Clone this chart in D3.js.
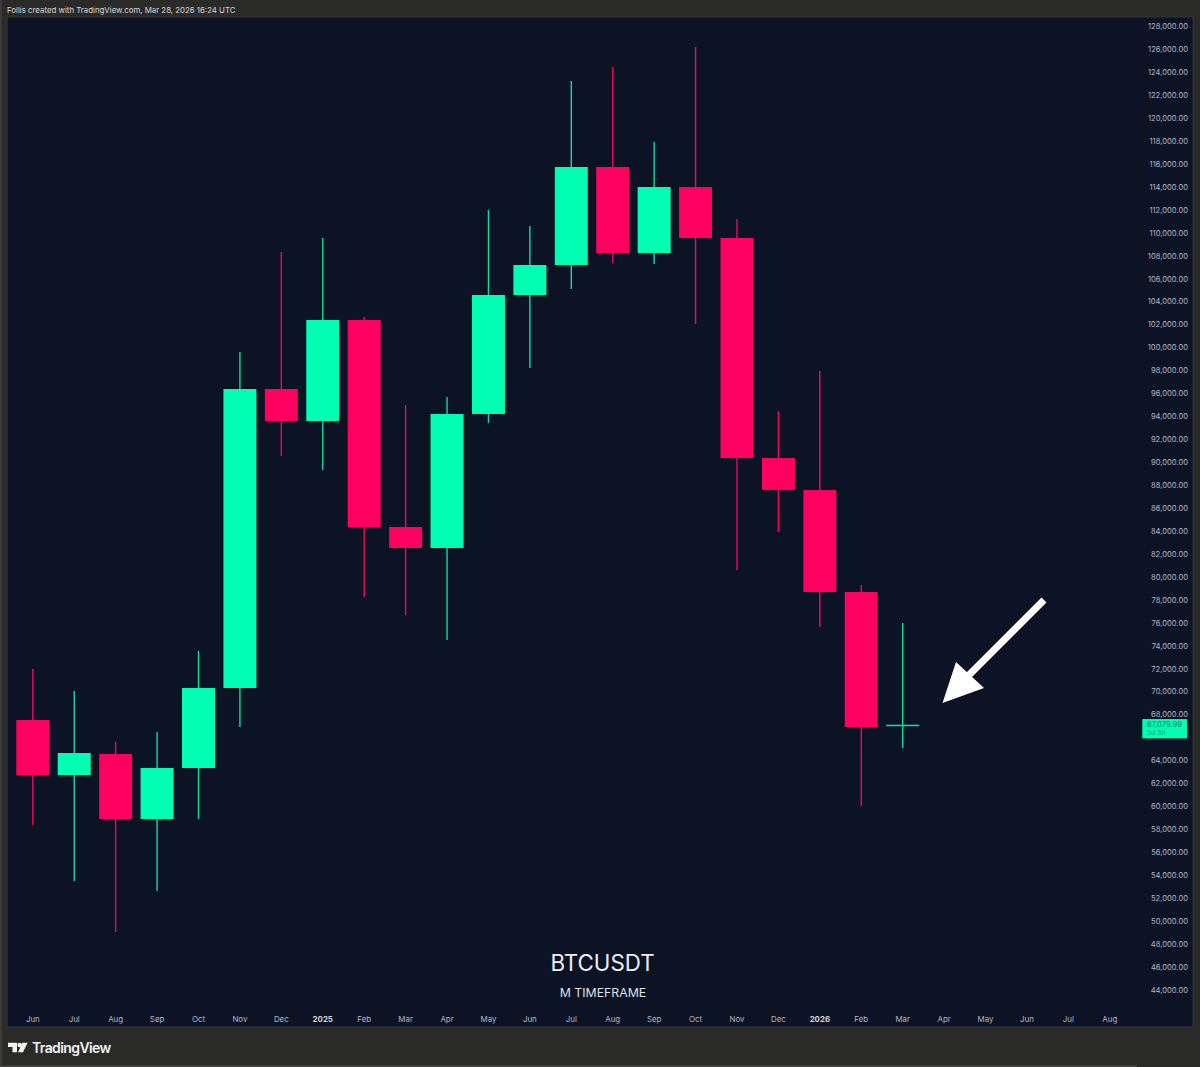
<!DOCTYPE html>
<html><head><meta charset="utf-8">
<script src="https://cdnjs.cloudflare.com/ajax/libs/d3/7.8.5/d3.min.js"></script>
<style>html,body{margin:0;padding:0;background:#2a2a29}svg{display:block}text{font-family:Inter,"Liberation Sans",sans-serif}</style>
</head><body><div id="c"></div>
<script>
const months = ["Jun","Jul","Aug","Sep","Oct","Nov","Dec","2025","Feb","Mar","Apr","May","Jun ","Jul ","Aug ","Sep ","Oct ","Nov ","Dec ","2026","Feb ","Mar ","Apr ","May ","Jun  ","Jul  ","Aug  "];
const opens  = [67496,62701,64530,58865,63311,70286,96354,93564,102370,84323,82492,94174,104549,107165,115709,108211,113965,109519,90338,87548,78656,66886];
const closes = [62701,64619,58865,63311,70286,96354,93564,102370,84323,82492,94174,104549,107165,115709,108211,113965,109519,90338,87548,78656,66886,67080];
const highs  = [71943,70025,65578,66450,73512,99580,108298,109519,102632,94959,95657,111960,110565,123207,124427,117888,126171,111175,94436,97923,79266,75953];
const lows   = [58342,53459,49013,52588,58865,66886,90513,89292,78220,76651,74471,93390,98185,105072,107339,107252,102021,80574,83887,75604,59998,65055];
const priceTicks = d3.range(44000,128001,2000).filter(v=>v!==66000);
const lastPrice = "67,079.99", countdown = "3d 8h", lastValue = 67080;
const W=1200,H=1067,UP="#00ffb2",DOWN="#ff0060",BG="#0c1324",LBL="#b4b8c4";
const x=d3.scalePoint().domain(months).range([32.8,1109.8]);
const y=d3.scaleLinear().domain([44000,128000]).range([989.5,26]);
const svg=d3.select("#c").append("svg").attr("width",W).attr("height",H).attr("viewBox",`0 0 ${W} ${H}`);
svg.append("rect").attr("width",W).attr("height",H).attr("fill","#2a2a29");
svg.append("rect").attr("x",0).attr("y",0).attr("width",2).attr("height",H).attr("fill","#3b3b3b");
svg.append("rect").attr("x",0).attr("y",1065).attr("width",1137).attr("height",2).attr("fill","#3f3f3f");
svg.append("rect").attr("x",7).attr("y",17).attr("width",1186).attr("height",1010).attr("fill",BG).attr("stroke","#33363f").attr("stroke-width",1);
svg.append("text").attr("x",7).attr("y",13).attr("font-size",7.85).attr("fill","#d8d8d8").text("Follis created with TradingView.com, Mar 28, 2026 16:24 UTC");
const candles=months.slice(0,opens.length).map((m,i)=>({m,o:opens[i],c:closes[i],h:highs[i],l:lows[i]}));
const g=svg.append("g");
g.selectAll("line.wick").data(candles).join("line").attr("class","wick")
 .attr("x1",d=>x(d.m)).attr("x2",d=>x(d.m)).attr("y1",d=>y(d.h)).attr("y2",d=>y(d.l))
 .attr("stroke",d=>d.c>=d.o?"#14d9a2":"#f00a5e").attr("stroke-width",1.4);
g.selectAll("rect.body").data(candles.filter(d=>Math.abs(d.c-d.o)>500)).join("rect").attr("class","body")
 .attr("x",d=>x(d.m)-16.5).attr("width",33).attr("y",d=>y(Math.max(d.o,d.c))).attr("height",d=>Math.abs(y(d.o)-y(d.c)))
 .attr("fill",d=>d.c>=d.o?UP:DOWN);
g.selectAll("rect.doji").data(candles.filter(d=>Math.abs(d.c-d.o)<=500)).join("rect").attr("class","doji")
 .attr("x",d=>x(d.m)-16.5).attr("width",33).attr("y",d=>y(Math.max(d.o,d.c))-0.1).attr("height",1.6).attr("fill","#14d9a2");
svg.append("g").selectAll("text").data(priceTicks).join("text")
 .attr("x",1188).attr("y",d=>y(d)+3.2).attr("text-anchor","end").attr("font-size",7.6).attr("fill",LBL)
 .text(d=>d3.format(",.2f")(d));
svg.append("g").selectAll("text").data(months).join("text")
 .attr("x",d=>x(d)).attr("y",1021.5).attr("text-anchor","middle").attr("font-size",7.9)
 .attr("font-weight",d=>/^20/.test(d)?700:400).attr("fill",d=>/^20/.test(d)?"#d4d6dc":LBL).text(d=>d.trim());
const ty=y(lastValue);
svg.append("rect").attr("x",1142.3).attr("y",ty-5.7).attr("width",44.7).attr("height",19.3).attr("fill",UP);
svg.append("text").attr("x",1147).attr("y",ty+1.8).attr("font-size",7.6).attr("fill","#0a7f63").text(lastPrice);
svg.append("text").attr("x",1147).attr("y",ty+10.3).attr("font-size",6.8).attr("fill","#1aa883").text(countdown);
svg.append("text").attr("x",602.5).attr("y",970.5).attr("text-anchor","middle").attr("font-size",22.3).attr("fill","#eef0f4").text("BTCUSDT");
svg.append("text").attr("x",603).attr("y",997).attr("text-anchor","middle").attr("font-size",12.3).attr("fill","#dfe1e6").text("M TIMEFRAME");
// annotation arrow
svg.append("line").attr("x1",1044).attr("y1",600).attr("x2",968).attr("y2",676).attr("stroke","#fff").attr("stroke-width",7);
svg.append("path").attr("d","M942.5,703 L956,662 L984,688 Z").attr("fill","#fff");
// logo
svg.append("path").attr("fill","#f2f2f2").attr("d","M8,1042.7 H17 V1052.3 H12.5 V1047 H8 Z M22,1045 A2.3,2.3 0 1 1 17.4,1045 A2.3,2.3 0 1 1 22,1045 Z M22.5,1042.7 H27.6 L23,1052.3 H18 Z");
svg.append("text").attr("x",32).attr("y",1052.5).attr("font-size",14).attr("letter-spacing",-0.6).attr("font-weight",600).attr("fill","#f2f2f2").text("TradingView");
</script></body></html>
